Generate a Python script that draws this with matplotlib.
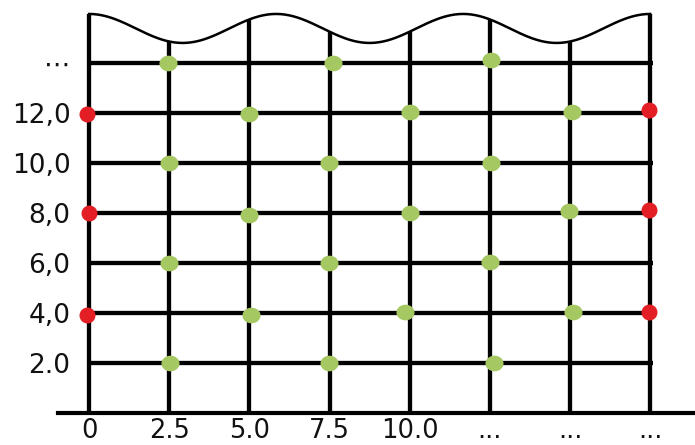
import numpy as np
import matplotlib
matplotlib.use("Agg")
import matplotlib.pyplot as plt
from matplotlib.path import Path
from matplotlib.markers import MarkerStyle

# grid positions and tick labels
x_grid = [0, 2.5, 5.0, 7.5, 10.0, 12.5, 15.0, 17.5]
x_labels = ["0", "2.5", "5.0", "7.5", "10.0", "...", "...", "..."]
y_grid = [2, 4, 6, 8, 10, 12, 14]
y_labels = ["2.0", "4,0", "6,0", "8,0", "10,0", "12,0", "\u22ef"]

# red points (edge columns)
red_x = [-0.05, 0.0, -0.05, 17.45, 17.45, 17.45]
red_y = [11.96, 8.0, 3.92, 12.12, 8.12, 4.04]

# green points
green_x = [2.45, 2.5, 2.5, 2.52,
           4.98, 5.0, 5.05,
           7.6, 7.47, 7.47, 7.47,
           10.0, 10.0, 9.85,
           12.55, 12.55, 12.52, 12.62,
           15.05, 14.97, 15.1]
green_y = [13.99, 10.0, 6.0, 2.0,
           11.96, 7.92, 3.9,
           13.99, 10.0, 5.98, 2.0,
           12.04, 8.0, 4.04,
           14.1, 9.98, 6.02, 1.98,
           12.04, 8.06, 4.04]

# decorative wavy top edge
wave_mid = 15.37
wave_amp = 0.58
wave_periods = 3


def wave(x):
    return wave_mid + wave_amp * np.cos(2 * np.pi * wave_periods * np.asarray(x) / x_grid[-1])


fig = plt.figure(figsize=(6.95, 4.45), dpi=100)
ax = fig.add_axes([58 / 695, 32.3 / 445, 637 / 695, 407.5 / 445])
ax.set_xlim(-0.97, 18.9)
ax.set_ylim(0, 16.3)

lw = 3.1
ax.hlines(y_grid, 0, 17.6, color="black", linewidth=lw, zorder=2)
ax.vlines(x_grid, 0, wave(x_grid), color="black", linewidth=lw, zorder=2)

xs = np.linspace(0, x_grid[-1], 400)
ax.plot(xs, wave(xs), color="black", linewidth=1.8, zorder=2)

# slightly oval markers for the green dots
t = np.linspace(0, 2 * np.pi, 60)
oval = Path(np.column_stack([1.17 * np.cos(t), np.sin(t)]), closed=True)
ax.plot(green_x, green_y, linestyle="none", marker=MarkerStyle(oval),
        markersize=12, color="#a5c862", zorder=3)
ax.plot(red_x, red_y, linestyle="none", marker="o", markersize=10.5,
        color="#e31e24", zorder=3)

for side in ["top", "left", "right"]:
    ax.spines[side].set_visible(False)
ax.spines["bottom"].set_linewidth(3.0)

ax.set_xticks(x_grid, x_labels)
ax.set_yticks(y_grid, y_labels)
ax.tick_params(axis="x", length=0, pad=4, labelsize=18.5, colors="#111111")
ax.tick_params(axis="y", length=0, pad=-9, labelsize=19, colors="#111111")

fig.savefig("out.png", dpi=100)
